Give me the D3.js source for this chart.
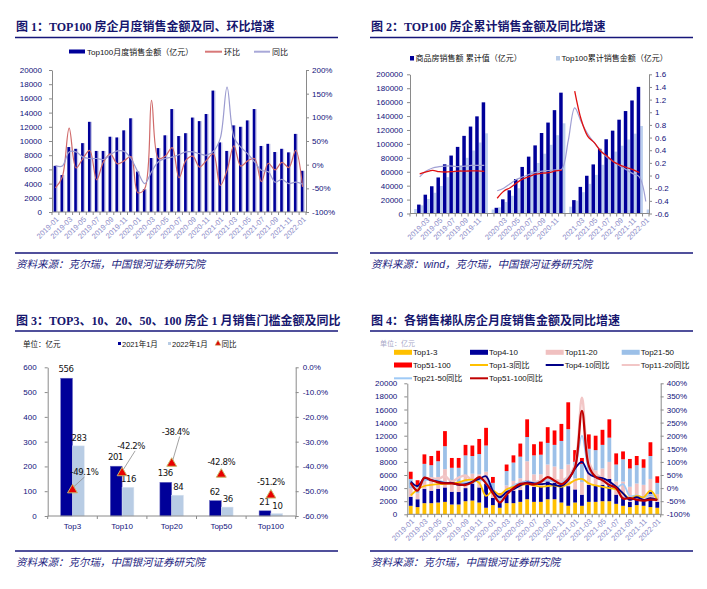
<!DOCTYPE html>
<html><head><meta charset="utf-8">
<script src="https://cdn.jsdelivr.net/npm/d3@7"></script>
<style>body{margin:0;background:#fff}svg{display:block}</style>
</head><body><svg id="c" width="707" height="589"></svg>
<script>
// ---------------- DATA ----------------
const months = ["2019-01","2019-02","2019-03","2019-04","2019-05","2019-06","2019-07","2019-08","2019-09","2019-10","2019-11","2019-12",
"2020-01","2020-02","2020-03","2020-04","2020-05","2020-06","2020-07","2020-08","2020-09","2020-10","2020-11","2020-12",
"2021-01","2021-02","2021-03","2021-04","2021-05","2021-06","2021-07","2021-08","2021-09","2021-10","2021-11","2021-12","2022-01"];
const monthLabels = ["2019-01","2019-03","2019-05","2019-07","2019-09","2019-11","2020-01","2020-03","2020-05","2020-07","2020-09","2020-11","2021-01","2021-03","2021-05","2021-07","2021-09","2021-11","2022-01"];
const cumLabels = ["2019-03","2019-05","2019-07","2019-09","2019-11","2020-03","2020-05","2020-07","2020-09","2020-11","2021-03","2021-05","2021-07","2021-09","2021-11","2022-01"];

// Panel 1
const top100Monthly = [6500,5200,9150,8900,9700,12700,8600,8600,10600,10500,11500,13200,5700,3200,7600,9000,10800,14500,10700,11100,13300,12800,13800,17100,9800,8600,12200,12000,12900,14500,9300,9600,8450,8900,8400,11000,5800];
const top100MoM = [-49,-26,77,-7,13,30,-32,6,23,2,8,17,-59,-51,136,13,18,36,-28,9,18,-5,9,23,-44,-12,40,-3,8,13,-36,3,-11,5,-6,30,-47];
const top100YoY = [-2,-3,27,27,16,13,13,11,21,29,28,13,-15,-40,-15,6,13,16,21,27,27,23,20,28,55,164,58,37,23,6,-12,-15,-37,-31,-40,-37,-41];
const p1LeftTicks = [0,2000,4000,6000,8000,10000,12000,14000,16000,18000,20000];
const p1RightTicks = [-100,-50,0,50,100,150,200];

// Panel 2
const nbsCumSales = [null,12803,27039,39145,51773,70698,83250,95702,111559,124908,139578,159725,
  null,8203,20365,33389,49483,66895,81700,97845,115647,130657,148493,173613,
  null,19219,38232,54226,70534,92931,106684,119047,134795,147185,162412,181930,null];
const top100CumSales = [6500,11700,20900,29800,39500,52200,60800,69400,80000,90500,102000,115200,
  5700,8900,16500,25500,36300,50800,61500,72600,85900,98700,112500,129600,
  9800,18400,30600,42600,55500,70000,79300,88900,97400,106300,114700,125700,5800];
const nbsCumYoY = [null,0.028,0.056,0.081,0.061,0.056,0.062,0.071,0.071,0.073,0.073,0.065,
  null,-0.359,-0.247,-0.193,-0.116,-0.054,-0.015,0.022,0.037,0.046,0.072,0.087,
  null,1.334,0.885,0.624,0.524,0.389,0.307,0.218,0.166,0.127,0.094,0.048,null];
const top100CumYoY = [null,-0.02,0.07,0.12,0.14,0.15,0.15,0.14,0.15,0.16,0.16,0.16,
  null,-0.24,-0.2,-0.13,-0.06,-0.02,0.02,0.05,0.07,0.08,0.09,0.1,
  0.55,1.07,0.85,0.66,0.52,0.4,0.29,0.22,0.15,0.09,0.03,-0.02,-0.41];
const p2LeftTicks = [0,20000,40000,60000,80000,100000,120000,140000,160000,180000,200000];
const p2RightTicks = [-0.6,-0.4,-0.2,0,0.2,0.4,0.6,0.8,1,1.2,1.4,1.6];

// Panel 3
const p3Categories = ["Top3","Top10","Top20","Top50","Top100"];
const p3Jan2021 = [556,201,136,62,21];
const p3Jan2022 = [283,116,84,36,10];
const p3YoY = [-49.1,-42.2,-38.4,-42.8,-51.2];
const p3LeftTicks = [0,100,200,300,400,500,600];
const p3RightTicks = [0,-10,-20,-30,-40,-50,-60];

// Panel 4
const tierNames = ["Top1-3","Top4-10","Top11-20","Top21-50","Top51-100"];
const tier1_3 = [1300,1100,1700,1700,1800,1900,1500,1500,2000,2100,1800,1000,1400,1000,1700,1700,1900,2300,1900,1900,2300,2300,1800,1300,1800,1300,1900,1900,2000,2000,1600,1300,1100,1400,1300,1100,1000];
const tier4_10 = [1350,1200,2200,1900,2100,2200,1950,1900,2000,2600,2300,3700,1100,900,1300,1900,1800,2900,2300,2300,2800,2500,2700,3000,2000,1700,2600,2500,2500,3400,1400,1300,800,1100,900,2300,900];
const tier11_20 = [1300,900,1600,1600,1800,2800,1400,1500,1900,1500,2000,1800,900,500,1400,1500,1800,2900,1900,1900,2500,2500,2400,3300,1700,1900,2400,2300,2500,2600,2000,2400,2300,2200,2300,2000,1200];
const tier21_50 = [1450,1200,2200,2300,2400,3500,2250,2200,3100,2700,3100,4000,1400,500,2200,2800,3300,3700,2900,3000,3300,3300,4300,5400,2500,2800,3100,3100,3600,3700,2600,3400,2800,2800,2600,3500,1700];
const tier51_100 = [1100,800,1450,1400,1600,2300,1500,1500,1600,1600,2300,2700,900,300,1000,1100,2000,2700,1700,2000,2400,2200,2600,4100,1800,900,2200,2200,2300,2800,1700,1200,1450,1400,1300,2100,1000];
const yoy1_3 = [-28,-5,8,12,15,16,18,22,30,32,20,-30,-10,-25,-5,5,10,15,10,5,8,10,5,15,30,35,18,10,5,0,-5,-20,-40,-30,-35,-10,-45];
const yoy4_10 = [25,8,38,30,25,20,20,12,15,25,35,45,-10,-35,-15,-5,10,22,18,15,18,12,8,30,75,100,55,42,38,25,5,-20,-45,-35,-45,-38,-45];
const yoy11_20 = [15,-5,35,38,35,45,25,40,48,30,40,20,-20,-50,-20,5,20,25,22,28,30,32,28,45,90,345,100,55,38,15,5,-30,-35,-38,-40,-32,-40];
const yoy21_50 = [10,-5,30,30,28,22,18,18,22,22,30,25,-10,-48,-12,10,20,25,20,25,30,25,20,40,80,200,75,40,30,10,0,15,-30,-28,-35,-25,-38];
const yoy51_100 = [20,-10,40,30,22,18,18,14,12,22,42,18,-20,-55,-25,0,16,18,14,24,42,28,15,35,80,295,85,43,30,12,0,-40,-38,-45,-48,-44,-45];
const p4LeftTicks = [0,2000,4000,6000,8000,10000,12000,14000,16000,18000,20000];
const p4RightTicks = [-100,-50,0,50,100,150,200,250,300,350,400];

// ---------------- DRAW ----------------
const svg = d3.select("#c");
svg.append("rect").attr("width",707).attr("height",589).attr("fill","#fff");
const NAVY = "#10107a", AXC = "#8a8a8a", XLAB = "#8c8cc8";
const FONT = "'Liberation Sans', Arial, sans-serif";
const CJK = "'Liberation Sans','Noto Sans CJK SC', sans-serif";

function header(x, x2, y, title, srcY, src){
  svg.append("text").attr("x",x).attr("y",y).text(title)
    .attr("font-family","'Liberation Serif','Noto Sans CJK SC',serif").attr("font-weight","bold")
    .attr("font-size",12).attr("fill","#16166e");
  svg.append("line").attr("x1",x-1).attr("x2",x2).attr("y1",y+6.5).attr("y2",y+6.5).attr("stroke","#16167a").attr("stroke-width",1.4);
  svg.append("line").attr("x1",x-1).attr("x2",x2).attr("y1",srcY).attr("y2",srcY).attr("stroke","#16167a").attr("stroke-width",1.4);
  svg.append("text").attr("x",x).attr("y",srcY+15).text(src)
    .attr("font-family",CJK).attr("font-style","italic").attr("font-size",10.5).attr("fill","#1c1c80");
}
function styleAxis(g, fs){
  g.select(".domain").attr("stroke",AXC);
  g.selectAll(".tick line").attr("stroke",AXC);
  g.selectAll(".tick text").attr("fill",NAVY).attr("font-family",FONT).attr("font-size",fs||8);
}
function leftAxis(scale,x,ticks,fmt,pad){
  const g = svg.append("g").attr("transform",`translate(${x},0)`)
    .call(d3.axisLeft(scale).tickValues(ticks).tickSize(3).tickSizeOuter(0).tickPadding(pad).tickFormat(fmt));
  styleAxis(g);
}
function rightAxis(scale,x,ticks,fmt,pad){
  const g = svg.append("g").attr("transform",`translate(${x},0)`)
    .call(d3.axisRight(scale).tickValues(ticks).tickSize(3).tickSizeOuter(0).tickPadding(pad).tickFormat(fmt));
  styleAxis(g);
}
function bottomLine(xs, y){
  const r = xs.range();
  svg.append("line").attr("x1",r[0]).attr("x2",r[1]).attr("y1",y).attr("y2",y).attr("stroke",AXC);
  svg.append("g").selectAll("line").data(xs.domain()).join("line")
    .attr("x1",d=>xs(d)).attr("x2",d=>xs(d)).attr("y1",y).attr("y2",y+3).attr("stroke",AXC);
  svg.append("line").attr("x1",r[1]).attr("x2",r[1]).attr("y1",y).attr("y2",y+3).attr("stroke",AXC);
}
function rotLabels(xs, labels, y){
  svg.append("g").selectAll("text").data(labels).join("text")
    .attr("transform",d=>`translate(${xs(d)+xs.bandwidth()/2+2},${y}) rotate(-45)`)
    .attr("text-anchor","end").attr("dy","0.35em")
    .attr("font-family",FONT).attr("font-size",7.5).attr("fill",XLAB).text(d=>d);
}
const pctFmt = d => d + "%";
const curve = d3.curveCatmullRom.alpha(0.5);

// ===== Panel 1 =====
header(16, 338, 31, "图 1：TOP100 房企月度销售金额及同、环比增速", 253, "资料来源：克尔瑞，中国银河证券研究院");
{
  const x = d3.scaleBand().domain(months).range([52,306]).padding(0);
  const y = d3.scaleLinear().domain([0,20000]).range([212,70]);
  const y2 = d3.scaleLinear().domain([-100,200]).range([212,70]);
  const lg = svg.append("g").attr("font-family",CJK).attr("font-size",8).attr("fill","#111");
  lg.append("rect").attr("x",69).attr("y",49.5).attr("width",16).attr("height",4).attr("fill","#000099");
  lg.append("text").attr("x",87).attr("y",54.5).text("Top100月度销售金额（亿元）");
  lg.append("line").attr("x1",205).attr("x2",222).attr("y1",51.7).attr("y2",51.7).attr("stroke","#d87878").attr("stroke-width",2);
  lg.append("text").attr("x",224).attr("y",54.5).text("环比");
  lg.append("line").attr("x1",254).attr("x2",270).attr("y1",51.7).attr("y2",51.7).attr("stroke","#a8a8d8").attr("stroke-width",2);
  lg.append("text").attr("x",272).attr("y",54.5).text("同比");
  const c = d => x(d) + x.bandwidth()/2;
  svg.append("g").selectAll("rect").data(months).join("rect")
    .attr("x",(d)=>c(d)-0.2).attr("width",2.4)
    .attr("y",(d,i)=>y(top100Monthly[i])).attr("height",(d,i)=>y(0)-y(top100Monthly[i])).attr("fill","#c8c8e8");
  svg.append("g").selectAll("rect").data(months).join("rect")
    .attr("x",(d)=>c(d)-1.8).attr("width",2.6)
    .attr("y",(d,i)=>y(top100Monthly[i])).attr("height",(d,i)=>y(0)-y(top100Monthly[i])).attr("fill","#000099");
  const line = arr => d3.line().x((d,i)=>c(months[i])).y(d=>y2(d)).curve(curve)(arr);
  svg.append("path").attr("d",line(top100MoM)).attr("fill","none").attr("stroke","#d06a6a").attr("stroke-width",1.2);
  svg.append("path").attr("d",line(top100YoY)).attr("fill","none").attr("stroke","#9c9cd0").attr("stroke-width",1.2);
  leftAxis(y,52,p1LeftTicks,d=>d,7);
  rightAxis(y2,306,p1RightTicks,pctFmt,3);
  bottomLine(x,212);
  rotLabels(x, monthLabels, 218);
}

// ===== Panel 2 =====
header(371, 693, 31, "图 2：TOP100 房企累计销售金额及同比增速", 253, "资料来源：wind，克尔瑞，中国银河证券研究院");
{
  const x = d3.scaleBand().domain(months).range([410,649]).padding(0);
  const y = d3.scaleLinear().domain([0,200000]).range([213.5,74.3]);
  const y2 = d3.scaleLinear().domain([-0.6,1.6]).range([213.5,74.3]);
  const lg = svg.append("g").attr("font-family",CJK).attr("font-size",8).attr("fill","#111");
  lg.append("rect").attr("x",410).attr("y",56).attr("width",4).attr("height",4.5).attr("fill","#000099");
  lg.append("text").attr("x",415.5).attr("y",61).text("商品房销售额 累计值（亿元）");
  lg.append("rect").attr("x",556).attr("y",56).attr("width",4).attr("height",4.5).attr("fill","#b8cce8");
  lg.append("text").attr("x",561.5).attr("y",61).text("Top100累计销售金额（亿元）");
  const c = d => x(d) + x.bandwidth()/2;
  svg.append("g").selectAll("rect").data(months).join("rect")
    .attr("x",d=>c(d)+0.9).attr("width",2.7)
    .attr("y",(d,i)=>y(top100CumSales[i])).attr("height",(d,i)=>y(0)-y(top100CumSales[i])).attr("fill","#bccfee");
  const nb = months.map((m,i)=>({m,v:nbsCumSales[i]})).filter(d=>d.v!=null);
  svg.append("g").selectAll("rect").data(nb).join("rect")
    .attr("x",d=>c(d.m)-2.6).attr("width",3.5)
    .attr("y",d=>y(d.v)).attr("height",d=>y(0)-y(d.v)).attr("fill","#000099");
  const line = arr => d3.line().defined(d=>d!=null).x((d,i)=>c(months[i])).y(d=>y2(d)).curve(curve)(arr);
  svg.append("path").attr("d",line(top100CumYoY)).attr("fill","none").attr("stroke","#a0a0d4").attr("stroke-width",1.2);
  svg.append("path").attr("d",line(nbsCumYoY)).attr("fill","none").attr("stroke","#e01010").attr("stroke-width",1.3);
  leftAxis(y,410,p2LeftTicks,d=>d,4);
  rightAxis(y2,649,p2RightTicks,d=>String(+d.toFixed(1)),3);
  bottomLine(x,213.5);
  rotLabels(x, cumLabels, 219);
}

// ===== Panel 3 =====
header(16, 338, 324.5, "图 3：TOP3、10、20、50、100 房企 1 月销售门槛金额及同比", 551, "资料来源：克尔瑞，中国银河证券研究院");
{
  const x = d3.scaleBand().domain(p3Categories).range([47.7,295.7]).padding(0);
  const y = d3.scaleLinear().domain([0,600]).range([516,367.3]);
  const y2 = d3.scaleLinear().domain([-60,0]).range([516,367.3]);
  const lg = svg.append("g").attr("font-family",CJK).attr("font-size",7.5).attr("fill","#111");
  lg.append("text").attr("x",23).attr("y",347).text("单位：亿元");
  lg.append("rect").attr("x",118).attr("y",342).attr("width",3).attr("height",3).attr("fill","#000099");
  lg.append("text").attr("x",122).attr("y",347).text("2021年1月");
  lg.append("rect").attr("x",168).attr("y",342).attr("width",3).attr("height",3).attr("fill","#b8cce4");
  lg.append("text").attr("x",172).attr("y",347).text("2022年1月");
  lg.append("path").attr("d",d3.symbol(d3.symbolTriangle).size(14)()).attr("transform","translate(218,343.5)").attr("fill","#e00000").attr("stroke","#c0b060").attr("stroke-width",0.6);
  lg.append("text").attr("x",221.5).attr("y",347).text("同比");
  const c = d => x(d) + x.bandwidth()/2;
  const g = svg.append("g");
  g.selectAll(".d").data(p3Categories).join("rect")
    .attr("x",d=>c(d)-11.8).attr("width",11.8)
    .attr("y",(d,i)=>y(p3Jan2021[i])).attr("height",(d,i)=>y(0)-y(p3Jan2021[i])).attr("fill","#000099").attr("stroke","#6a6ac0").attr("stroke-width",0.5);
  g.selectAll(".l").data(p3Categories).join("rect")
    .attr("x",d=>c(d)).attr("width",11.8)
    .attr("y",(d,i)=>y(p3Jan2022[i])).attr("height",(d,i)=>y(0)-y(p3Jan2022[i])).attr("fill","#b8cce4").attr("stroke","#dde6f2").attr("stroke-width",0.5);
  const vf = {"font-family":"'DejaVu Sans Condensed','Liberation Sans',Arial,sans-serif","font-size":9.5,"fill":"#111","text-anchor":"middle","letter-spacing":"-0.4"};
  const t1 = g.selectAll(".t1").data(p3Categories).join("text").attr("x",d=>c(d)-6.5).attr("y",(d,i)=>y(p3Jan2021[i])-6).text((d,i)=>p3Jan2021[i]);
  const t2 = g.selectAll(".t2").data(p3Categories).join("text").attr("x",d=>c(d)+6.5).attr("y",(d,i)=>y(p3Jan2022[i])-5).text((d,i)=>p3Jan2022[i]);
  for (const [k,v] of Object.entries(vf)) { t1.attr(k,v); t2.attr(k,v); }
  const lblOff = [[12,-17,true],[9,-26,true],[4,-31,true],[0,-12,false],[0,-13,false]];
  p3Categories.forEach((cat,i)=>{
    const mx = c(cat), my = y2(p3YoY[i]);
    const [dx,dy,lead] = lblOff[i];
    if (lead) g.append("line").attr("x1",mx+1).attr("y1",my-2).attr("x2",mx+dx+(i==0?0:4)).attr("y2",my+dy+5).attr("stroke","#8a8a8a").attr("stroke-width",0.8);
    g.append("path").attr("d",d3.symbol(d3.symbolTriangle).size(42)()).attr("transform",`translate(${mx},${my+1})`)
      .attr("fill","#e80000").attr("stroke","#c8b868").attr("stroke-width",1);
    const t = g.append("text").attr("x",mx+dx).attr("y",my+dy+3.5).text(p3YoY[i].toFixed(1)+"%");
    for (const [k,v] of Object.entries(vf)) t.attr(k,v);
  });
  leftAxis(y,47.7,p3LeftTicks,d=>d,8);
  rightAxis(y2,295.7,p3RightTicks,d=>d.toFixed(1)+"%",4);
  bottomLine(x,516);
  svg.append("g").selectAll("text").data(p3Categories).join("text")
    .attr("x",d=>c(d)).attr("y",529).attr("text-anchor","middle")
    .attr("font-family",FONT).attr("font-size",8).attr("fill",NAVY).text(d=>d);
}

// ===== Panel 4 =====
header(371, 693, 324.5, "图 4：各销售梯队房企月度销售金额及同比增速", 551, "资料来源：克尔瑞，中国银河证券研究院");
{
  const x = d3.scaleBand().domain(months).range([407.3,660.7]).padding(0);
  const y = d3.scaleLinear().domain([0,20000]).range([514.3,383.3]);
  const y2 = d3.scaleLinear().domain([-100,400]).range([514.3,383.3]);
  const barColors = ["#ffc000","#000099","#f0c0c0","#9cc0e8","#ff0000"];
  const lineColors = ["#ffc000","#000088","#f2c6c6","#9fcaf6","#c00000"];
  svg.append("text").attr("x",380).attr("y",346).text("单位：亿元").attr("font-family",CJK).attr("font-size",7).attr("fill","#a8a8c8");
  const lg = svg.append("g").attr("font-family",CJK).attr("font-size",8).attr("fill","#111");
  const legItems = [
    [0,"bar",0],[1,"bar",1],[2,"bar",2],[3,"bar",3],
    [4,"bar",4],[5,"line",0],[6,"line",1],[7,"line",2],
    [8,"line",3],[9,"line",4]];
  const colX = [394,470,545.7,621.7], rowY = [352.3,365,378.3];
  legItems.forEach(([k,type,ti])=>{
    const lx = colX[k%4], ly = rowY[Math.floor(k/4)];
    if (type==="bar") lg.append("rect").attr("x",lx).attr("y",ly-2.5).attr("width",18).attr("height",5).attr("fill",barColors[ti]);
    else lg.append("line").attr("x1",lx).attr("x2",lx+18).attr("y1",ly).attr("y2",ly).attr("stroke",lineColors[ti]).attr("stroke-width",2);
    lg.append("text").attr("x",lx+19).attr("y",ly+3).text(tierNames[ti]+(type==="line"?"同比":""));
  });
  const tiers = [tier1_3,tier4_10,tier11_20,tier21_50,tier51_100];
  const rows = months.map((m,i)=>{ const r={m}; tierNames.forEach((n,k)=>r[n]=tiers[k][i]); return r; });
  const stack = d3.stack().keys(tierNames)(rows);
  const c = d => x(d) + x.bandwidth()/2;
  svg.append("g").selectAll("g").data(stack).join("g").attr("fill",(d,k)=>barColors[k])
    .selectAll("rect").data(d=>d).join("rect")
    .attr("x",d=>c(d.data.m)-1.9).attr("width",3.8)
    .attr("y",d=>y(d[1])).attr("height",d=>y(d[0])-y(d[1]));
  const yoys = [yoy1_3,yoy4_10,yoy11_20,yoy21_50,yoy51_100];
  const widths = [1.8,1.8,2.4,1.8,2.2];
  const order = [2,3,0,1,4];
  order.forEach(k=>{
    svg.append("path").attr("d",d3.line().x((d,i)=>c(months[i])).y(d=>y2(d)).curve(curve)(yoys[k]))
      .attr("fill","none").attr("stroke",lineColors[k]).attr("stroke-width",widths[k]);
  });
  leftAxis(y,407.3,p4LeftTicks,d=>d,7);
  rightAxis(y2,660.7,p4RightTicks,pctFmt,3);
  bottomLine(x,514.3);
  rotLabels(x, monthLabels, 520);
}
</script></body></html>
